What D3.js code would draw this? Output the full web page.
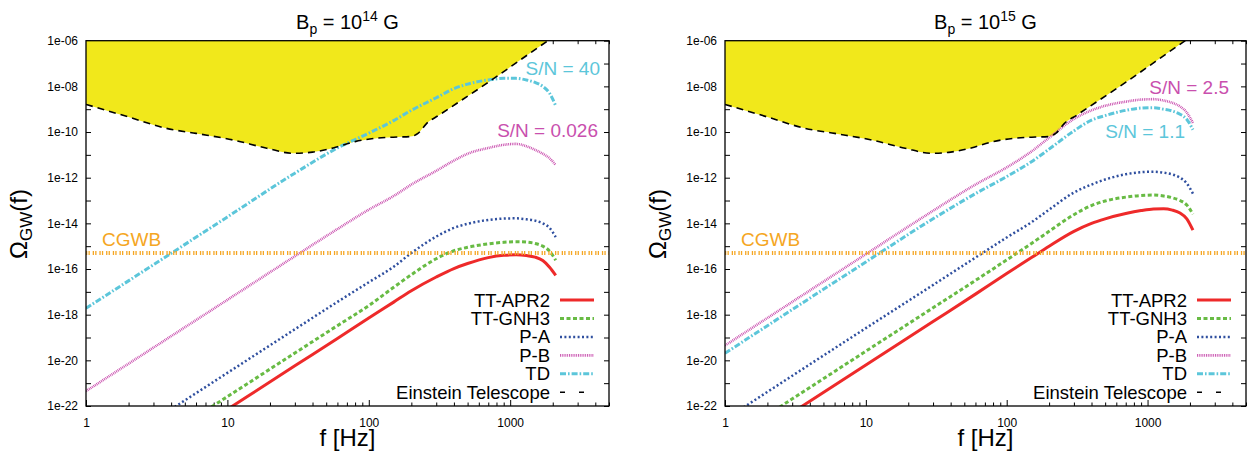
<!DOCTYPE html>
<html>
<head>
<meta charset="utf-8">
<script src="https://cdn.jsdelivr.net/npm/d3@7/dist/d3.min.js"></script>
<style>
  body { margin: 0; background: #fff; }
  text { font-family: "Liberation Sans", Arial, Helvetica, sans-serif; }
</style>
</head>
<body>
<script>
var w = 1255;
var h = 452;

// frequencies (Hz) shared by the model curves
var freq = [1, 10, 30, 60, 100, 150, 200, 300, 400, 500, 700, 900, 1100, 1300, 1500, 1700, 1900, 2100];

// B_p = 1e14 G
var apr2_14 = [7.1e-27, 7.1e-23, 5.75e-21, 9.1e-20, 7.1e-19, 3.55e-18, 1.12e-17, 4.47e-17, 1.05e-16, 1.74e-16, 3.16e-16, 3.98e-16, 4.17e-16, 3.89e-16, 3.31e-16, 2.34e-16, 1.2e-16, 5.25e-17];
var gnh3_14 = [2.57e-26, 2.57e-22, 2.09e-20, 3.31e-19, 2.51e-18, 1.58e-17, 5.62e-17, 2.82e-16, 6.31e-16, 8.91e-16, 1.26e-15, 1.48e-15, 1.58e-15, 1.51e-15, 1.32e-15, 1.0e-15, 6.03e-16, 2.4e-16];
var pa_14 = [2.82e-25, 2.82e-21, 2.29e-19, 3.63e-18, 2.63e-17, 1.26e-16, 5.01e-16, 2.63e-15, 6.31e-15, 9.55e-15, 1.41e-14, 1.62e-14, 1.66e-14, 1.51e-14, 1.32e-14, 1.0e-14, 6.31e-15, 2.51e-15];
var pb_14 = [4.47e-22, 4.47e-18, 3.63e-16, 5.62e-15, 3.98e-14, 1.58e-13, 5.01e-13, 2.0e-12, 5.62e-12, 1.12e-11, 2.0e-11, 2.75e-11, 3.02e-11, 2.4e-11, 1.66e-11, 1.12e-11, 7.08e-12, 3.55e-12];
var td_14 = [1.91e-18, 1.91e-14, 1.58e-12, 2.0e-11, 8.91e-11, 3.16e-10, 8.91e-10, 3.16e-9, 7.94e-9, 1.26e-8, 1.91e-8, 2.24e-8, 2.24e-8, 1.91e-8, 1.48e-8, 1.0e-8, 5.01e-9, 1.41e-9];

// B_p = 1e15 G
var apr2_15 = [6.31e-25, 6.31e-21, 5.01e-19, 7.94e-18, 6.31e-17, 3.16e-16, 1.0e-15, 4.47e-15, 1.0e-14, 1.58e-14, 2.69e-14, 3.63e-14, 4.27e-14, 4.37e-14, 3.8e-14, 2.82e-14, 1.58e-14, 5.01e-15];
var gnh3_15 = [2.51e-24, 2.51e-20, 2.0e-18, 3.16e-17, 2.51e-16, 1.32e-15, 4.47e-15, 2.4e-14, 6.03e-14, 9.55e-14, 1.41e-13, 1.66e-13, 1.74e-13, 1.58e-13, 1.32e-13, 1.0e-13, 6.31e-14, 2.51e-14];
var pa_15 = [2.57e-23, 2.57e-19, 2.0e-17, 3.16e-16, 2.4e-15, 1.12e-14, 3.98e-14, 2.24e-13, 5.01e-13, 8.32e-13, 1.41e-12, 1.74e-12, 1.82e-12, 1.66e-12, 1.38e-12, 1.0e-12, 5.62e-13, 2.0e-13];
var pb_15 = [4.47e-20, 4.47e-16, 3.55e-14, 5.01e-13, 2.82e-12, 1.41e-11, 5.62e-11, 3.72e-10, 8.91e-10, 1.41e-9, 2.14e-9, 2.63e-9, 2.75e-9, 2.4e-9, 1.91e-9, 1.32e-9, 7.08e-10, 2.51e-10];
var td_15 = [2.04e-20, 2.04e-16, 1.58e-14, 2.0e-13, 1.12e-12, 5.01e-12, 1.78e-11, 1.12e-10, 3.31e-10, 5.25e-10, 8.91e-10, 1.12e-9, 1.17e-9, 1.0e-9, 8.32e-10, 6.03e-10, 3.55e-10, 1.26e-10];

// Einstein Telescope sensitivity
var etFreq = [1, 2, 3.7, 6, 11, 19, 29, 40, 56, 80, 114, 160, 196, 224, 257, 316, 682, 1811, 2500];
var etOmega = [1.62e-9, 4.57e-10, 1.45e-10, 8.71e-11, 4.47e-11, 1.95e-11, 1.17e-11, 1.32e-11, 2.0e-11, 3.8e-11, 5.37e-11, 6.03e-11, 6.31e-11, 8.91e-11, 2.4e-10, 5.62e-10, 1.35e-8, 9.12e-7, 3.55e-6];

var cgwb = 5e-16;

var seriesNames = ["TT-APR2", "TT-GNH3", "P-A", "P-B", "TD"];
var xTicks = [1, 10, 100, 1000];
var yTicks = [1e-6, 1e-8, 1e-10, 1e-12, 1e-14, 1e-16, 1e-18, 1e-20, 1e-22];
var yTickLabels = ["1e-06", "1e-08", "1e-10", "1e-12", "1e-14", "1e-16", "1e-18", "1e-20", "1e-22"];
var yMinor = [1e-7, 1e-9, 1e-11, 1e-13, 1e-15, 1e-17, 1e-19, 1e-21];

var styles = {
    "TT-APR2": {color: "#ee2a2a", width: 3, dash: null},
    "TT-GNH3": {color: "#68bb44", width: 3, dash: "4,2.5"},
    "P-A": {color: "#2f4f9f", width: 2.5, dash: "2,2.4"},
    "P-B": {color: "#c94fae", width: 2.6, dash: "0.9,0.9"},
    "TD": {color: "#5cc6da", width: 3, dash: "6,2,1.6,2"}
};

var panels = [
    {id: 0, left: 86, right: 609, exp: "14",
     data: [apr2_14, gnh3_14, pa_14, pb_14, td_14],
     notes: [{t: "S/N = 40", c: "#5cc6da", dx: -9, y: 75}, {t: "S/N = 0.026", c: "#c94fae", dx: -11, y: 137}]},
    {id: 1, left: 725, right: 1246, exp: "15",
     data: [apr2_15, gnh3_15, pa_15, pb_15, td_15],
     notes: [{t: "S/N = 2.5", c: "#c94fae", dx: -17, y: 94}, {t: "S/N = 1.1", c: "#5cc6da", dx: -61, y: 138}]}
];

var plotTop = 40.7, plotBottom = 406;

var svg = d3.select("body").append("svg").attr("width", w).attr("height", h);

var xMinor = [];
[1, 10, 100, 1000].forEach(function(d) {
    for (var k = 2; k <= 9; k++) { if (d * k <= 5000) xMinor.push(d * k); }
});

function styleAxis(sel) {
    sel.select(".domain").remove();
    sel.attr("font-family", null).attr("font-size", 12);
    sel.selectAll("line").attr("stroke", "#000").attr("stroke-width", 1);
    sel.selectAll("text").attr("fill", "#000");
}

// ticks only, no labels
function bareAxis(sel) {
    styleAxis(sel);
    sel.selectAll("text").remove();
}

panels.forEach(function(p) {
    var x = d3.scaleLog().domain([1, 5000]).range([p.left, p.right]);
    var y = d3.scaleLog().domain([1e-22, 1e-6]).range([plotBottom, plotTop]);
    var g = svg.append("g");

    svg.append("clipPath").attr("id", "clip" + p.id)
        .append("rect")
        .attr("x", p.left).attr("y", plotTop)
        .attr("width", p.right - p.left).attr("height", plotBottom - plotTop);

    // ticks
    g.append("g").attr("transform", "translate(0," + plotBottom + ")")
        .call(d3.axisBottom(x).tickValues(xTicks).tickFormat(d3.format("d")).tickSizeInner(-6).tickSizeOuter(0).tickPadding(12))
        .call(styleAxis);
    g.append("g").attr("transform", "translate(0," + plotBottom + ")")
        .call(d3.axisBottom(x).tickValues(xMinor).tickSizeInner(-3.5).tickSizeOuter(0))
        .call(bareAxis);
    g.append("g").attr("transform", "translate(0," + plotTop + ")")
        .call(d3.axisTop(x).tickValues(xTicks).tickSizeInner(-6).tickSizeOuter(0))
        .call(bareAxis);
    g.append("g").attr("transform", "translate(0," + plotTop + ")")
        .call(d3.axisTop(x).tickValues(xMinor).tickSizeInner(-3.5).tickSizeOuter(0))
        .call(bareAxis);
    g.append("g").attr("transform", "translate(" + p.left + ",0)")
        .call(d3.axisLeft(y).tickValues(yTicks).tickFormat(function(d, i) { return yTickLabels[i]; }).tickSizeInner(-5).tickSizeOuter(0).tickPadding(8))
        .call(styleAxis);
    g.append("g").attr("transform", "translate(" + p.left + ",0)")
        .call(d3.axisLeft(y).tickValues(yMinor).tickSizeInner(-5).tickSizeOuter(0))
        .call(bareAxis);
    g.append("g").attr("transform", "translate(" + p.right + ",0)")
        .call(d3.axisRight(y).tickValues(yTicks.concat(yMinor)).tickSizeInner(-5).tickSizeOuter(0))
        .call(bareAxis);

    var plot = svg.append("g").attr("clip-path", "url(#clip" + p.id + ")");

    var et = etFreq.map(function(f, i) { return [f, etOmega[i]]; });

    // excluded region above the ET curve
    plot.append("path")
        .datum(et)
        .attr("fill", "#f1e81b")
        .attr("d", d3.area()
            .x(function(d) { return x(d[0]); })
            .y0(plotTop)
            .y1(function(d) { return y(d[1]); })
            .curve(d3.curveMonotoneX));

    var line = d3.line()
        .x(function(d) { return x(d[0]); })
        .y(function(d) { return y(d[1]); })
        .curve(d3.curveMonotoneX);

    p.data.forEach(function(vals, i) {
        var s = styles[seriesNames[i]];
        plot.append("path")
            .datum(freq.map(function(f, j) { return [f, vals[j]]; }))
            .attr("fill", "none")
            .attr("stroke", s.color)
            .attr("stroke-width", s.width)
            .attr("stroke-dasharray", s.dash)
            .attr("d", line);
    });

    // CGWB level
    plot.append("line")
        .attr("x1", p.left).attr("x2", p.right)
        .attr("y1", y(cgwb)).attr("y2", y(cgwb))
        .attr("stroke", "#f5a623")
        .attr("stroke-width", 4)
        .attr("stroke-dasharray", "1.3,1.2,1.3,2.9");

    plot.append("path")
        .datum(et)
        .attr("fill", "none")
        .attr("stroke", "#000")
        .attr("stroke-width", 1.6)
        .attr("stroke-dasharray", "7,5")
        .attr("d", line);

    // frame
    svg.append("rect")
        .attr("x", p.left).attr("y", plotTop)
        .attr("width", p.right - p.left).attr("height", plotBottom - plotTop)
        .attr("fill", "none").attr("stroke", "#000").attr("stroke-width", 1.3);

    // labels
    svg.append("text")
        .attr("x", p.left + 16).attr("y", 246)
        .attr("font-size", 19).attr("fill", "#f5a623")
        .text("CGWB");

    p.notes.forEach(function(n) {
        svg.append("text")
            .attr("x", p.right + n.dx).attr("y", n.y)
            .attr("text-anchor", "end")
            .attr("font-size", 19).attr("fill", n.c)
            .text(n.t);
    });

    var cx = (p.left + p.right) / 2;
    var title = svg.append("text")
        .attr("x", cx).attr("y", 29)
        .attr("text-anchor", "middle")
        .attr("font-size", 20);
    title.append("tspan").text("B");
    title.append("tspan").attr("font-size", 14).attr("dy", 5).text("p");
    title.append("tspan").attr("dy", -5).text(" = 10");
    title.append("tspan").attr("font-size", 14).attr("dy", -8).text(p.exp);
    title.append("tspan").attr("dy", 8).text(" G");

    svg.append("text")
        .attr("x", cx).attr("y", 446)
        .attr("text-anchor", "middle")
        .attr("font-size", 24)
        .text("f [Hz]");

    var yl = svg.append("text")
        .attr("transform", "translate(" + (p.left - 59) + ",224) rotate(-90)")
        .attr("text-anchor", "middle")
        .attr("font-size", 24);
    yl.append("tspan").text("Ω");
    yl.append("tspan").attr("font-size", 17).attr("dy", 5).text("GW");
    yl.append("tspan").attr("dy", -5).text("(f)");

    // legend
    var leg = svg.append("g");
    var rows = seriesNames.concat(["Einstein Telescope"]);
    rows.forEach(function(name, i) {
        var yy = 300 + i * 18.45;
        leg.append("text")
            .attr("x", p.right - 59).attr("y", yy + 6.5)
            .attr("text-anchor", "end")
            .attr("font-size", 18.5)
            .text(name);
        var s = styles[name] || {color: "#000", width: 1.6, dash: "5,14"};
        leg.append("line")
            .attr("x1", p.right - 49).attr("x2", p.right - 15)
            .attr("y1", yy).attr("y2", yy)
            .attr("stroke", s.color)
            .attr("stroke-width", s.width)
            .attr("stroke-dasharray", s.dash);
    });
});
</script>
</body>
</html>
